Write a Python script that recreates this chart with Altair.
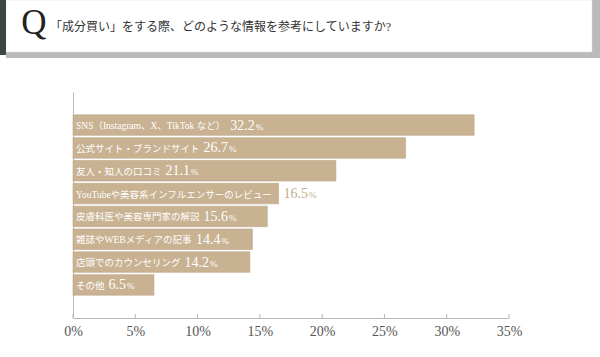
import altair as alt
import pandas as pd

# ---- data ----
categories = [
    "SNS（Instagram、X、TikTok など）",
    "公式サイト・ブランドサイト",
    "友人・知人の口コミ",
    "YouTubeや美容系インフルエンサーのレビュー",
    "皮膚科医や美容専門家の解説",
    "雑誌やWEBメディアの記事",
    "店頭でのカウンセリング",
    "その他",
]
values = [32.2, 26.7, 21.1, 16.5, 15.6, 14.4, 14.2, 6.5]
tick_values = [0, 5, 10, 15, 20, 25, 30, 35]
title_text = "「成分買い」をする際、どのような情報を参考にしていますか?"

# ---- layout constants ----
W, H = 436, 226
XMAX = 35
PPU = W / XMAX
FONT = "Liberation Serif, Noto Sans CJK JP"
BAR = "#c8b292"
TAN_TEXT = "#c2ab8a"
CAT_SIZE = 9.5
NUM_SIZE = 14
PCT_SIZE = 9

# approximate glyph advance widths (Times metrics) used to place the value after the label
times = {' ': 0.25, '(': 0.333, ')': 0.333, 'A': 0.722, 'B': 0.667, 'E': 0.611,
         'I': 0.333, 'N': 0.722, 'S': 0.556, 'T': 0.611, 'W': 0.944, 'X': 0.722,
         'Y': 0.722, 'a': 0.444, 'b': 0.5, 'e': 0.444, 'g': 0.5, 'i': 0.278,
         'k': 0.5, 'm': 0.778, 'n': 0.5, 'o': 0.5, 'r': 0.333, 's': 0.389,
         't': 0.278, 'u': 0.5, '.': 0.25, '%': 0.833}


def tw(s, size):
    total = 0.0
    for ch in s:
        if ch in times:
            total += times[ch]
        elif ch.isdigit():
            total += 0.5
        elif ord(ch) > 0x2000:
            total += 1.0
        else:
            total += 0.5
    return total * size


rows = []
for c, v in zip(categories, values):
    bar_px = v * PPU
    num = f"{v:.1f}"
    num_px = 3 + tw(c, CAT_SIZE) + 4
    num_w = tw(num, NUM_SIZE)
    pct_w = tw("%", PCT_SIZE)
    inside = num_px + num_w + 1 + pct_w <= bar_px - 3
    if not inside:
        num_px = bar_px + 5
    rows.append(dict(category=c, value=v, num=num, pct="%",
                     num_x=num_px / PPU, pct_x=(num_px + num_w + 1) / PPU,
                     tcolor="#ffffff" if inside else TAN_TEXT))
df = pd.DataFrame(rows)

one = pd.DataFrame({"a": [0]})

x_scale = alt.Scale(domain=[0, XMAX], nice=False, zero=True)
x_axis = alt.Axis(values=tick_values, labelExpr="datum.value + '%'", title=None,
                  grid=False, ticks=False, tickSize=0, labelPadding=6,
                  labelFont="Liberation Serif", labelFontSize=14,
                  labelColor="#555555", labelFlush=False, labelOverlap=False,
                  domainColor="#b8b8b8", domainWidth=1)
y_scale = alt.Scale(paddingInner=0.1, paddingOuter=1)
y_axis = alt.Axis(title=None, labels=False, ticks=False, domain=True, grid=False,
                  domainColor="#b8b8b8", domainWidth=1)


def Y():
    return alt.Y("category:N", sort=categories, scale=y_scale, axis=y_axis)


def X(field):
    return alt.X(field, scale=x_scale, axis=x_axis)


bars = alt.Chart(df).mark_bar(color=BAR, stroke="#bca686", strokeWidth=0.6).encode(
    x=X("value:Q"), y=Y())

ticks = alt.Chart(pd.DataFrame({"t": tick_values})).mark_rule(color="#b8b8b8").encode(
    x=X("t:Q"), y=alt.value(H - 4), y2=alt.value(H))

cat_text = alt.Chart(df).mark_text(align="left", baseline="alphabetic", dx=3, dy=4,
                                   font=FONT, fontSize=CAT_SIZE, color="white").encode(
    x=alt.value(0), y=Y(), text="category:N")

num_text = alt.Chart(df).mark_text(align="left", baseline="alphabetic", dy=4.5,
                                   font="Liberation Serif", fontSize=NUM_SIZE).encode(
    x=X("num_x:Q"), y=Y(), text="num:N",
    color=alt.Color("tcolor:N", scale=None))

pct_text = alt.Chart(df).mark_text(align="left", baseline="alphabetic", dy=4.5,
                                   font="Liberation Serif", fontSize=PCT_SIZE).encode(
    x=X("pct_x:Q"), y=Y(), text="pct:N",
    color=alt.Color("tcolor:N", scale=None))

# ---- header box ----
hdr_gray = alt.Chart(one).mark_rect(color="#bababa").encode(
    x=alt.value(-67), x2=alt.value(527), y=alt.value(-92), y2=alt.value(-34))
hdr_white = alt.Chart(one).mark_rect(color="#ffffff", stroke="#dddddd", strokeWidth=0.5).encode(
    x=alt.value(-67), x2=alt.value(519), y=alt.value(-92), y2=alt.value(-40))
hdr_dark = alt.Chart(one).mark_rect(color="#3f4446").encode(
    x=alt.value(-73), x2=alt.value(-67), y=alt.value(-92), y2=alt.value(-37))
hdr_q = alt.Chart(one).mark_text(font="Liberation Serif", fontSize=35, color="#222222",
                                 align="center", baseline="alphabetic").encode(
    x=alt.value(-39), y=alt.value(-58), text=alt.value("Q"))
hdr_title = alt.Chart(one).mark_text(font=FONT, fontSize=12, color="#333333",
                                     align="left", baseline="middle").encode(
    x=alt.value(-23), y=alt.value(-65), text=alt.value(title_text))

chart = alt.layer(
    bars, ticks, cat_text, num_text, pct_text,
    hdr_gray, hdr_white, hdr_dark, hdr_q, hdr_title,
).properties(
    width=W, height=H,
    autosize="none",
    padding={"left": 73, "top": 92, "right": 91, "bottom": 39},
    background="white",
).configure_view(stroke=None)

chart.save("out.html", embed_options={"renderer": "svg", "actions": False})
